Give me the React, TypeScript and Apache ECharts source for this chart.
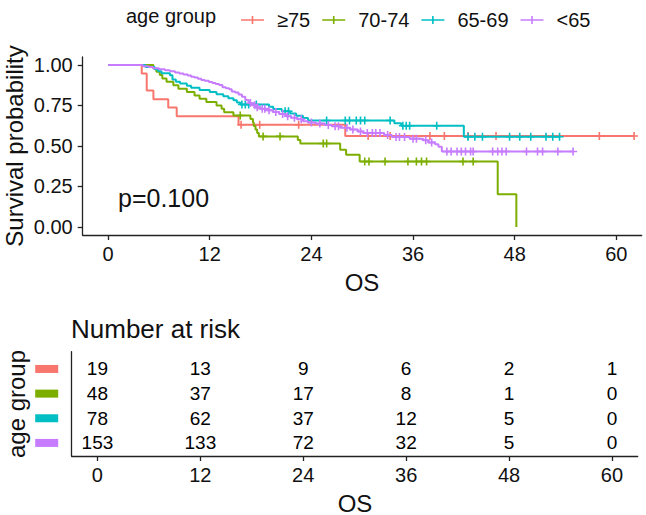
import React, { useEffect, useRef } from 'react';
import * as echarts from 'echarts';

// ---- groups ----
const GROUPS = ['≥75', '70-74', '65-69', '<65'];
const COLORS = ['#F8766D', '#7CAE00', '#00BFC4', '#C77CFF'];

// ---- Kaplan-Meier steps: event time (months) and survival after the event ----
const RED_T = [3.97, 4.56, 5.35, 7.1, 8.1, 15.4, 28.0];
const RED_S = [0.947, 0.842, 0.789, 0.737, 0.684, 0.631, 0.561];
const RED_CENSOR = [15.7, 17.9, 22.5, 30.7, 33.3, 38.0, 39.7, 42.5, 45.8, 58.0, 62.1];

const GREEN_T = [5.35, 5.7, 6.1, 6.4, 6.9, 7.7, 8.3, 9.3, 10.2, 10.8, 11.6, 12.8, 13.4, 13.7, 14.8,
  16.8, 17.1, 17.2, 17.4, 17.6, 17.8, 22.4, 22.7, 27.4, 28.1, 29.7, 46.0, 48.2];
const GREEN_S = [0.979, 0.958, 0.938, 0.917, 0.896, 0.875, 0.854, 0.833, 0.812, 0.792, 0.771, 0.75, 0.729, 0.708, 0.688,
  0.666, 0.645, 0.623, 0.602, 0.58, 0.559, 0.537, 0.515, 0.476, 0.445, 0.404, 0.202, 0.0];
const GREEN_CENSOR = [15.6, 18.3, 20.3, 25.4, 25.8, 30.3, 30.8, 32.7, 35.4, 36.4, 37.0, 37.6, 41.9, 43.1];

const CYAN_T = [4.4, 5.5, 5.9, 6.3, 7.3, 7.6, 8.0, 8.5, 9.3, 9.8, 10.8, 12.0, 12.8, 13.6, 14.2, 14.8, 15.2, 15.6,
  19.0, 19.5, 20.5, 21.5, 22.2, 23.0, 23.6, 33.8, 34.6, 42.0];
const CYAN_S = [0.987, 0.974, 0.962, 0.949, 0.936, 0.91, 0.897, 0.885, 0.872, 0.859, 0.846, 0.833, 0.82, 0.807, 0.795, 0.782, 0.769, 0.756,
  0.742, 0.728, 0.714, 0.7, 0.686, 0.672, 0.657, 0.64, 0.625, 0.557];
const CYAN_CENSOR = [15.8, 16.2, 16.6, 17.5, 20.9, 21.3, 25.8, 28.0, 28.5, 29.3, 29.8, 30.3, 33.3, 34.8, 35.2, 35.6,
  38.8, 42.5, 43.3, 44.2, 47.4, 48.6, 49.9, 51.7, 52.5, 53.3];

const PURPLE_T = [4.1, 4.8, 5.3, 6.0, 6.7, 7.3, 7.9, 8.4, 8.9, 9.4, 9.8, 10.2, 10.6, 11.0, 11.4, 11.9, 12.3, 12.7, 13.1,
  13.5, 13.9, 14.3, 14.6, 15.0, 15.4, 15.8, 16.2, 16.6, 17.0, 17.5, 18.0, 18.8, 19.5, 20.2, 21.0, 21.6, 22.3, 23.0,
  23.6, 24.5, 25.6, 26.4, 27.4, 28.6, 29.5, 30.1, 32.6, 33.5, 35.6, 37.2, 37.8, 38.6, 39.0, 39.4];
const PURPLE_S = [0.993, 0.987, 0.98, 0.974, 0.967, 0.961, 0.954, 0.948, 0.941, 0.935, 0.928, 0.922, 0.915, 0.908, 0.902,
  0.895, 0.889, 0.882, 0.876, 0.863, 0.856, 0.85, 0.837, 0.83, 0.817, 0.804, 0.784, 0.765, 0.752, 0.739, 0.729, 0.72,
  0.71, 0.697, 0.684, 0.674, 0.665, 0.652, 0.645, 0.638, 0.63, 0.622, 0.612, 0.602, 0.59, 0.58, 0.568, 0.555, 0.545,
  0.535, 0.522, 0.51, 0.495, 0.466];
const PURPLE_CENSOR = [16.8, 17.3, 17.6, 18.2, 18.5, 19.0, 19.8, 20.6, 21.2, 22.0, 22.8, 24.0, 25.0, 26.0, 26.8, 27.2,
  28.2, 28.9, 29.8, 30.6, 31.2, 31.6, 32.1, 33.0, 34.0, 34.4, 35.0, 36.0, 36.4, 37.5, 38.2, 40.0, 40.5, 41.2, 41.7,
  42.2, 42.8, 43.1, 45.4, 46.0, 46.5, 47.0, 49.4, 50.7, 51.3, 53.1, 54.9];

// ---- number at risk ----
const RISK_TIMES = [0, 12, 24, 36, 48, 60];
const RISK_RED = [19, 13, 9, 6, 2, 1];
const RISK_GREEN = [48, 37, 17, 8, 1, 0];
const RISK_CYAN = [78, 62, 37, 12, 5, 0];
const RISK_PURPLE = [153, 133, 72, 32, 5, 0];

const X_TICKS = [0, 12, 24, 36, 48, 60];
const Y_TICKS = [0, 0.25, 0.5, 0.75, 1];
const P_VALUE = 'p=0.100';

const FONT = '"Liberation Sans", Arial, Helvetica, sans-serif';
const INK = '#111';
const PLUS = 'path://M-0.8,-4H0.8V-0.8H4V0.8H0.8V4H-0.8V0.8H-4V-0.8H-0.8Z';
const LEGEND_ICON = 'path://M0,3.2H23V4.8H0Z M10.7,0H12.3V8H10.7Z';

function survivalAt(ts: number[], ss: number[], t: number): number {
  let s = 1;
  for (let i = 0; i < ts.length; i++) if (ts[i] <= t) s = ss[i];
  return s;
}

function stepPoints(ts: number[], ss: number[], cens: number[]): number[][] {
  const pts: number[][] = [[0, 1]];
  ts.forEach((t, i) => pts.push([t, ss[i]]));
  const lastT = ts[ts.length - 1];
  const end = Math.max(lastT, ...cens);
  if (end > lastT) pts.push([end, ss[ss.length - 1]]);
  return pts;
}

const CURVES = [
  { t: RED_T, s: RED_S, c: RED_CENSOR, risk: RISK_RED },
  { t: GREEN_T, s: GREEN_S, c: GREEN_CENSOR, risk: RISK_GREEN },
  { t: CYAN_T, s: CYAN_S, c: CYAN_CENSOR, risk: RISK_CYAN },
  { t: PURPLE_T, s: PURPLE_S, c: PURPLE_CENSOR, risk: RISK_PURPLE },
];

function text(x: number, y: number, str: string, size: number, align: string, rotate = 0) {
  return {
    type: 'text',
    x,
    y,
    rotation: rotate,
    silent: true,
    style: { text: str, font: `${size}px ${FONT}`, fill: INK, align, verticalAlign: 'middle' },
  };
}

export default function App() {
  const ref = useRef<HTMLDivElement>(null);

  useEffect(() => {
    if (!ref.current) return;
    const chart = echarts.init(ref.current, null, { renderer: 'svg' });

    const series: any[] = [];
    CURVES.forEach((g, i) => {
      series.push({
        name: GROUPS[i],
        type: 'line',
        step: 'end',
        xAxisIndex: 0,
        yAxisIndex: 0,
        showSymbol: false,
        symbol: 'none',
        color: COLORS[i],
        lineStyle: { color: COLORS[i], width: 2 },
        data: stepPoints(g.t, g.s, g.c),
        z: 2 + i,
      });
      series.push({
        name: GROUPS[i],
        type: 'scatter',
        xAxisIndex: 0,
        yAxisIndex: 0,
        symbol: PLUS,
        symbolSize: 8,
        itemStyle: { color: COLORS[i], opacity: 1 },
        data: g.c.map((t) => [t, survivalAt(g.t, g.s, t)]),
        z: 2 + i,
      });
      series.push({
        name: 'risk ' + GROUPS[i],
        type: 'scatter',
        xAxisIndex: 1,
        yAxisIndex: 1,
        symbolSize: 0,
        itemStyle: { opacity: 1 },
        label: {
          show: true,
          position: 'inside',
          formatter: (p: any) => String(p.value[2]),
          fontSize: 19,
          fontFamily: FONT,
          color: '#000',
          opacity: 1,
          textBorderWidth: 0,
        },
        data: RISK_TIMES.map((t, k) => [t, i + 1, g.risk[k]]),
      });
    });

    const rich: any = {};
    COLORS.forEach((c, i) => {
      rich['g' + (i + 1)] = { width: 23, height: 8, backgroundColor: c };
    });

    const axisLine = { show: true, onZero: false, lineStyle: { color: '#222', width: 1.3 } };
    const axisTick = { show: true, length: 5, lineStyle: { color: '#222', width: 1.3 } };

    chart.setOption({
      animation: false,
      legend: {
        data: GROUPS.map((name) => ({ name, icon: LEGEND_ICON })),
        left: 236,
        top: 5,
        itemWidth: 23,
        itemHeight: 8,
        itemGap: 12,
        selectedMode: false,
        textStyle: { fontSize: 20, fontFamily: FONT, color: INK, padding: [0, 0, 0, 8] },
      },
      grid: [
        { left: 82.7, top: 56.9, width: 559, height: 178.1 },
        { left: 71.7, top: 351.7, width: 566, height: 104.3 },
      ],
      xAxis: [
        {
          type: 'value',
          gridIndex: 0,
          min: -3,
          max: 63,
          axisLine,
          axisTick: { ...axisTick, customValues: X_TICKS },
          axisLabel: { customValues: X_TICKS, fontSize: 20, fontFamily: FONT, color: INK, margin: 9 },
          splitLine: { show: false },
        },
        {
          type: 'value',
          gridIndex: 1,
          min: -3,
          max: 63,
          axisLine,
          axisTick: { ...axisTick, customValues: RISK_TIMES },
          axisLabel: { customValues: RISK_TIMES, fontSize: 20, fontFamily: FONT, color: INK, margin: 9 },
          splitLine: { show: false },
        },
      ],
      yAxis: [
        {
          type: 'value',
          gridIndex: 0,
          min: -0.05,
          max: 1.05,
          axisLine,
          axisTick: { ...axisTick, customValues: Y_TICKS },
          axisLabel: {
            customValues: Y_TICKS,
            formatter: (v: number) => v.toFixed(2),
            fontSize: 20,
            fontFamily: FONT,
            color: INK,
            margin: 10,
          },
          splitLine: { show: false },
        },
        {
          type: 'value',
          gridIndex: 1,
          min: 0.3,
          max: 4.53,
          inverse: true,
          axisLine,
          axisTick: { show: false, customValues: [1, 2, 3, 4] },
          axisLabel: {
            customValues: [1, 2, 3, 4],
            formatter: (v: number) => `{g${v}| }`,
            rich,
            margin: 13.5,
          },
          splitLine: { show: false },
        },
      ],
      graphic: [
        text(126, 16, 'age group', 20, 'left'),
        text(14, 146, 'Survival probability', 24, 'center', Math.PI / 2),
        text(362, 282, 'OS', 24, 'center'),
        text(118, 198, P_VALUE, 25, 'left'),
        text(71, 329, 'Number at risk', 26, 'left'),
        text(16, 404, 'age group', 24, 'center', Math.PI / 2),
        text(355, 503, 'OS', 24, 'center'),
      ],
      series,
    });

    return () => chart.dispose();
  }, []);

  return (
    <div
      ref={ref}
      style={{ position: 'fixed', left: 0, top: 0, width: 646, height: 515, background: '#fff' }}
    />
  );
}
